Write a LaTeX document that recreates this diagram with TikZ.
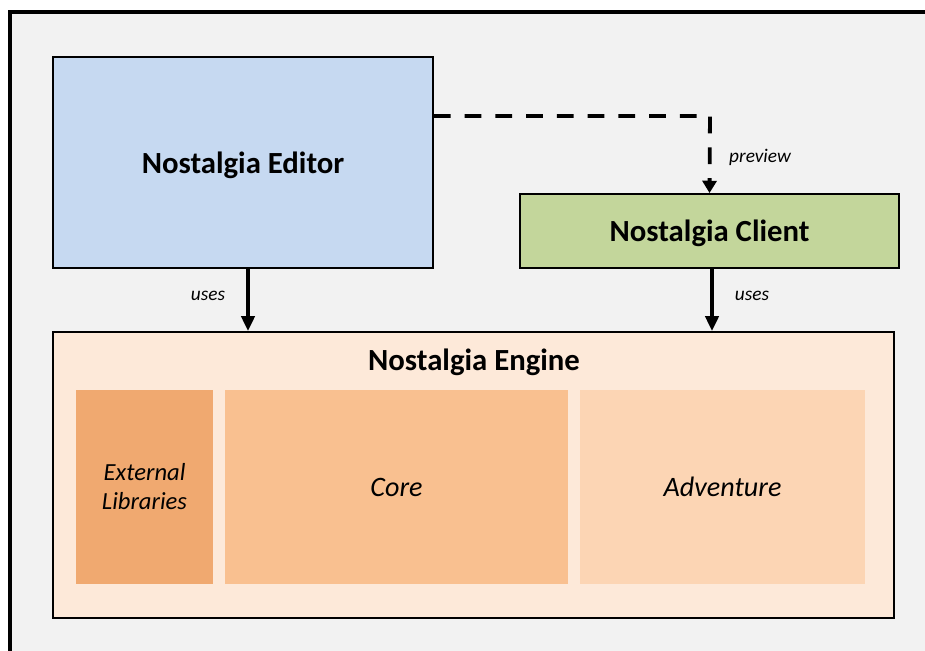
\documentclass[tikz,border=0pt]{standalone}
\usepackage{fontspec}
\setmainfont{Carlito}
\usetikzlibrary{arrows.meta}

\definecolor{panel}{HTML}{F2F2F2}
\definecolor{editorblue}{HTML}{C6D9F1}
\definecolor{clientgreen}{HTML}{C3D69B}
\definecolor{enginebg}{HTML}{FDE9D9}
\definecolor{libsorange}{HTML}{F0A970}
\definecolor{coreorange}{HTML}{F9C090}
\definecolor{advorange}{HTML}{FCD5B4}

\tikzset{
  app/.style={draw, line width=1.1pt, font=\fontsize{17.5}{20}\selectfont\bfseries, inner sep=0pt, text depth=0pt},
  part/.style={inner sep=0pt, font=\fontsize{16}{19}\selectfont\itshape},
  uses/.style={line width=2pt, -{Triangle[length=8.5pt, width=7.5pt]}},
  tag/.style={font=\fontsize{11}{13}\selectfont\itshape},
}

\begin{document}
\begin{tikzpicture}[x=0.02cm, y=-0.02cm]
    \useasboundingbox (0,0) rectangle (925,650);
    \clip (0,0) rectangle (925,650);
    \draw[line width=2.8pt, fill=panel] (10,12) rectangle (960,680);

% the two applications
\node[app, fill=editorblue, minimum width=7.6cm, minimum height=4.22cm] (editor) at (243,162.5) {Nostalgia Editor};
\node[app, fill=clientgreen, minimum width=7.58cm, minimum height=1.48cm] (client) at (709.5,231) {Nostalgia Client};

% engine and its parts
\node[app, fill=enginebg, minimum width=16.82cm, minimum height=5.72cm] (engine) at (473.5,475) {};
\node[font=\fontsize{17.5}{20}\selectfont\bfseries, text depth=0pt] (enginetitle) at (474,360) {Nostalgia Engine};
\node[part, fill=libsorange, minimum width=2.74cm, minimum height=3.88cm, align=center,
      font=\fontsize{14}{16.5}\selectfont\itshape] (libs) at (144.5,487) {External\\Libraries};
\node[part, fill=coreorange, minimum width=6.86cm, minimum height=3.88cm] (core) at (396.5,487) {Core};
\node[part, fill=advorange, minimum width=5.7cm, minimum height=3.88cm] (adventure) at (722.5,487) {Adventure};

% connectors
\draw[uses] ([xshift=0.1cm]editor.south) -- ([xshift=0.1cm]editor.south |- engine.north);
\draw[uses] ([xshift=0.05cm]client.south) -- ([xshift=0.05cm]client.south |- engine.north);
\coordinate (turn) at (710,116);
\draw[line width=2.2pt, dash pattern=on 9.5pt off 8pt, -{Triangle[length=7pt, width=8pt]}]
    (turn -| editor.east) -- (turn) -- (client.north);

\node[tag] (usesl) at (208,296) {uses};
\node[tag] (usesr) at (752,296) {uses};
\node[tag] (prev) at (760,157) {preview};
  \end{tikzpicture}
\end{document}
